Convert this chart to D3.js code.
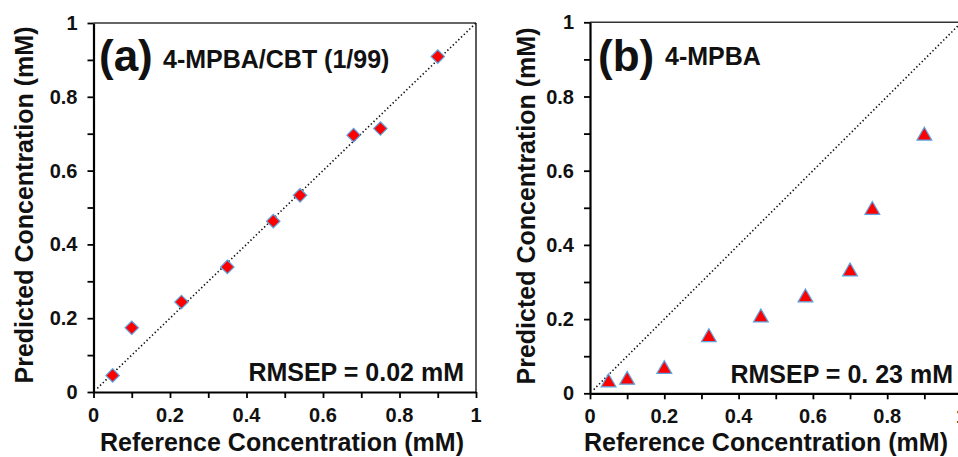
<!DOCTYPE html>
<html>
<head>
<meta charset="utf-8">
<script src="https://cdn.jsdelivr.net/npm/d3@7"></script>
<style>
  html, body { margin: 0; padding: 0; background: #fff; overflow: hidden; }
  svg { display: block; }
  text { font-family: "Liberation Sans", Arial, sans-serif; font-weight: bold; fill: #111; }
</style>
</head>
<body>
<svg id="chart" width="958" height="457"></svg>
<script>
// panel (a) 4-MPBA/CBT (1/99)
var refA = [0.05, 0.10, 0.23, 0.35, 0.47, 0.54, 0.68, 0.75, 0.90];
var predA = [0.045, 0.174, 0.244, 0.339, 0.463, 0.533, 0.696, 0.714, 0.909];
// panel (b) 4-MPBA
var refB = [0.05, 0.10, 0.20, 0.32, 0.46, 0.58, 0.70, 0.76, 0.90];
var predB = [0.029, 0.036, 0.065, 0.151, 0.204, 0.258, 0.328, 0.494, 0.694];
// ticks
var majorTicks = [0, 0.2, 0.4, 0.6, 0.8, 1];
var minorTicks = [0, 0.1, 0.2, 0.3, 0.4, 0.5, 0.6, 0.7, 0.8, 0.9, 1];
var tickFmt = function(d){ return d === 0 ? '0' : d === 1 ? '1' : d3.format('.1f')(d); };

var svg = d3.select('#chart');

function drawPanel(o){
	var x = d3.scaleLinear().domain([0, 1]).range([o.x0, o.x1]);
	var y = d3.scaleLinear().domain([0, 1]).range([o.y0, o.y1]);
	var g = svg.append('g');

	// top and right frame
	g.append('line').attr('x1', x(0)).attr('x2', x(1)).attr('y1', y(1)).attr('y2', y(1))
		.attr('stroke', '#333').attr('stroke-width', 1.6);
	g.append('line').attr('x1', x(1)).attr('x2', x(1)).attr('y1', y(0)).attr('y2', y(1))
		.attr('stroke', '#333').attr('stroke-width', 1.6);

	// axes, ticks every 0.1, labels every 0.2
	var xAxis = g.append('g').attr('transform', 'translate(0,' + o.y0 + ')')
		.call(d3.axisBottom(x).tickValues(minorTicks).tickSize(6).tickSizeOuter(0).tickFormat(''));
	var yAxis = g.append('g').attr('transform', 'translate(' + o.x0 + ',0)')
		.call(d3.axisLeft(y).tickValues(minorTicks).tickSize(6).tickSizeOuter(0).tickFormat(''));
	[xAxis, yAxis].forEach(function(a){
		a.select('.domain').attr('stroke', '#000').attr('stroke-width', 2.2);
		a.selectAll('.tick line').attr('stroke', '#000').attr('stroke-width', 1.8);
	});

	g.selectAll('.xlab').data(majorTicks).enter().append('text')
		.attr('x', function(d){ return x(d); }).attr('y', o.y0 + 30)
		.attr('text-anchor', 'middle').style('font-size', '20px')
		.text(tickFmt);
	g.selectAll('.ylab').data(majorTicks).enter().append('text')
		.attr('x', o.x0 - 16).attr('y', function(d){ return y(d) + 7; })
		.attr('text-anchor', 'end').style('font-size', '20px')
		.text(tickFmt);

	// 1:1 line
	g.append('line')
		.attr('x1', x(0.01)).attr('y1', y(0.01)).attr('x2', x(1)).attr('y2', y(1))
		.attr('stroke', '#111').attr('stroke-width', 1.6).attr('stroke-dasharray', '1.4,2.4');

	// points
	var sym = d3.symbol().type(o.symbol).size(o.symSize);
	g.selectAll('.pt').data(o.ref).enter().append('path')
		.attr('d', sym)
		.attr('transform', function(d, i){
			return 'translate(' + x(d) + ',' + y(o.pred[i]) + ')' + (o.rotate ? ' rotate(45)' : '');
		})
		.attr('fill', '#ff0000').attr('stroke', '#5ba3e0').attr('stroke-width', 1.2);

	// texts
	g.append('text').attr('x', o.tagX).attr('y', 71).style('font-size', '44px').text(o.tag);
	g.append('text').attr('x', o.subX).attr('y', o.subY).style('font-size', '25px').text(o.sub);
	g.append('text').attr('x', o.rmsX).attr('y', o.rmsY).attr('text-anchor', 'end')
		.style('font-size', '25px').text(o.rms);
	g.append('text').attr('x', o.xlabX).attr('y', 451).attr('text-anchor', 'middle')
		.style('font-size', '25px').text('Reference Concentration (mM)');
	g.append('text').attr('transform', 'translate(' + o.ylabX + ',' + o.ylabY + ') rotate(-90)')
		.attr('text-anchor', 'middle').style('font-size', '25px').text('Predicted Concentration (mM)');
}

drawPanel({
	x0: 93.5, x1: 476, y0: 392, y1: 23,
	ref: refA, pred: predA, symbol: d3.symbolSquare, symSize: 90, rotate: true,
	tag: '(a)', tagX: 99, sub: '4-MPBA/CBT (1/99)', subX: 163, subY: 68,
	rms: 'RMSEP = 0.02 mM', rmsX: 464, rmsY: 381,
	xlabX: 282, ylabX: 33, ylabY: 205
});

drawPanel({
	x0: 590, x1: 961.5, y0: 393.3, y1: 22.3,
	ref: refB, pred: predB, symbol: d3.symbolTriangle, symSize: 95, rotate: false,
	tag: '(b)', tagX: 598, sub: '4-MPBA', subX: 665, subY: 65,
	rms: 'RMSEP = 0. 23 mM', rmsX: 953, rmsY: 383,
	xlabX: 766, ylabX: 535, ylabY: 206
});
</script>
</body>
</html>
